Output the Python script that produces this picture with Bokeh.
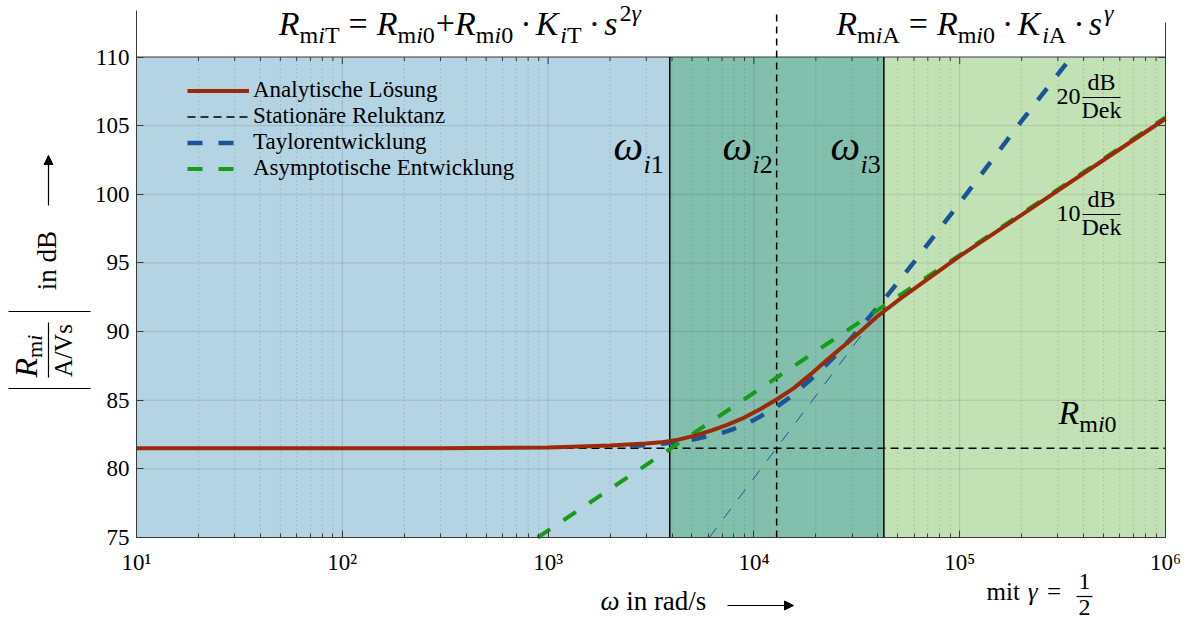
import math
from bokeh.plotting import figure
from bokeh.models import (FixedTicker, LinearAxis, Label, Arrow, NormalHead,
                          Legend, LegendItem)
from bokeh.embed import file_html
from bokeh.resources import INLINE

# ---------------- data ----------------
x_ticks = [10, 100, 1000, 10000, 100000, 1000000]
x_tick_labels = ["10¹", "10²", "10³", "10⁴", "10⁵", "10⁶"]
y_ticks = [75, 80, 85, 90, 95, 100, 105, 110]
minor_mantissas = [2, 3, 4, 5, 6, 7, 8, 9]

omega_i = [3.9e3, 1.29e4, 4.28e4]        # omega_i1, omega_i2, omega_i3
omega_i_names = ["1", "2", "3"]
R_mi0_dB = 81.5

region_colors = ["#b4d3e3", "#82bfad", "#c2e2b6"]

w_analytic = [10, 100, 300, 1000, 2000, 3000, 3516, 4300, 5105, 6200, 7413, 8933, 10770, 12880,
              15640, 18840, 22700, 27350, 32960, 39720, 51520, 1e5, 2e5, 5e5, 1e6]
dB_analytic = [81.5, 81.5, 81.5, 81.55, 81.7, 81.85, 81.93, 82.13, 82.4, 82.78, 83.21, 83.72,
               84.36, 85.05, 85.88, 86.88, 87.94, 88.97, 90.0, 91.1, 92.4, 95.5, 98.5, 102.5,
               105.5]

w_taylor = [2500, 3000, 4000, 5000, 7000, 8000, 10000, 12880, 15000, 20000, 25000,
            30000, 42760, 60000, 1e5, 2e5, 3.49e5]
dB_taylor = [81.66, 81.73, 81.9, 82.11, 82.62, 82.92, 83.55, 84.51, 85.22, 86.83, 88.28,
             89.58, 92.3, 95.06, 99.37, 105.34, 110.0]

w_taylor_slope = [6070, 42760]       # 20 dB/Dek guide
dB_taylor_slope = [75.0, 91.9]

w_asym = [890, 1e6]                  # 10 dB/Dek asymptote
dB_asym = [75.0, 105.6]

# ---------------- layout ----------------
FIG_W, FIG_H = 1192, 619
BOX_L, BOX_R, BOX_B = 136, 1165, 537        # pixel edges of the plot box
PX_DEC = (BOX_R - BOX_L) / 5.0
PX_DB = 480.5 / 35.0
FONT = "Liberation Serif"


def dx(ix):
    return 10 ** (1 + (ix - BOX_L) / PX_DEC)


def dy(iy):
    return 75 + (BOX_B - iy) / PX_DB


HEAD_TOP = dy(10)

p = figure(width=FIG_W, height=FIG_H, x_axis_type="log", x_range=(dx(0), dx(FIG_W)),
           y_range=(dy(FIG_H), dy(0)), output_backend="svg", toolbar_location=None,
           min_border=0, min_border_left=0, min_border_right=0, min_border_top=0,
           min_border_bottom=0, outline_line_color=None, background_fill_color="white",
           border_fill_color="white")
p.xgrid.visible = False
p.ygrid.visible = False

AX_COL = "#3a3a3a"
minor_x = [m * 10 ** k for k in range(1, 6) for m in minor_mantissas]

xa = p.xaxis[0]
xa.ticker = FixedTicker(ticks=x_ticks, minor_ticks=minor_x)
xa.major_label_overrides = {int(t): l for t, l in zip(x_ticks, x_tick_labels)}
xa.fixed_location = 75
xa.bounds = (10, 1e6)
ya = p.yaxis[0]
ya.ticker = FixedTicker(ticks=y_ticks)
ya.fixed_location = 10
ya.bounds = (75, HEAD_TOP)
for ax in (xa, ya):
    ax.axis_line_color = AX_COL
    ax.major_tick_line_color = AX_COL
    ax.minor_tick_line_color = AX_COL
    ax.major_tick_in = 7
    ax.major_tick_out = 0
    ax.minor_tick_in = 4
    ax.minor_tick_out = 0
    ax.major_label_text_font = FONT
    ax.major_label_text_font_size = "23px"
    ax.major_label_text_color = "black"
ya.minor_tick_line_color = None
ya.major_label_standoff = 7
xa.major_label_standoff = 12

ra = LinearAxis(ticker=FixedTicker(ticks=y_ticks), major_label_text_font_size="2px",
                major_label_text_color=None, major_label_standoff=0, fixed_location=1e6,
                major_tick_in=7, major_tick_out=0, minor_tick_line_color=None,
                axis_line_color=AX_COL, major_tick_line_color=AX_COL, bounds=(75, dy(22)))
p.add_layout(ra, "right")

# background regions
edges = [x_ticks[0], omega_i[0], omega_i[2], x_ticks[-1]]
p.quad(left=edges[:-1], right=edges[1:], bottom=y_ticks[0], top=y_ticks[-1],
       fill_color=region_colors, line_color=None)

# grid (drawn from the tick lists, only inside the plot box)
maj_x = x_ticks[1:-1]
p.segment(x0=maj_x, y0=[75] * len(maj_x), x1=maj_x, y1=[110] * len(maj_x),
          line_color="black", line_alpha=0.12, line_width=1)
p.segment(x0=minor_x, y0=[75] * len(minor_x), x1=minor_x, y1=[110] * len(minor_x),
          line_color="black", line_alpha=0.22, line_width=1, line_dash="1 3")
maj_y = y_ticks[1:-1]
p.segment(x0=[10] * len(maj_y), y0=maj_y, x1=[1e6] * len(maj_y), y1=maj_y,
          line_color="black", line_alpha=0.12, line_width=1)

# top border of the plot box with inward ticks
p.line([10, 1e6], [110, 110], line_color=AX_COL, line_width=1)
p.segment(x0=x_ticks, y0=[110] * len(x_ticks), x1=x_ticks,
          y1=[110 - 7 / PX_DB] * len(x_ticks), line_color=AX_COL, line_width=1)
p.segment(x0=minor_x, y0=[110] * len(minor_x), x1=minor_x,
          y1=[110 - 4 / PX_DB] * len(minor_x), line_color=AX_COL, line_width=1)

# region borders
p.segment(x0=[omega_i[0], omega_i[2]], y0=[75, 75], x1=[omega_i[0], omega_i[2]], y1=[110, 110],
          line_color="black", line_width=1.5)
p.segment(x0=[omega_i[1]], y0=[75], x1=[omega_i[1]], y1=[HEAD_TOP],
          line_color="black", line_width=1.5, line_dash="7 5")

# curves
r_stat = p.line([10, 1e6], [R_mi0_dB, R_mi0_dB], line_color="black", line_width=1.5,
                line_dash="8 5")
p.line(w_taylor_slope, dB_taylor_slope, line_color="#1b5597", line_width=1, line_dash="12 12")
r_tay = p.line(w_taylor, dB_taylor, line_color="#1b5597", line_width=4.5, line_dash="15 16")
r_asy = p.line(w_asym, dB_asym, line_color="#169c17", line_width=4, line_dash="15 16")
r_ana = p.line(w_analytic, dB_analytic, line_color="#9a2a08", line_width=4)

legend = Legend(items=[LegendItem(label="Analytische Lösung", renderers=[r_ana]),
                       LegendItem(label="Stationäre Reluktanz", renderers=[r_stat]),
                       LegendItem(label="Taylorentwicklung", renderers=[r_tay]),
                       LegendItem(label="Asymptotische Entwicklung", renderers=[r_asy])],
                location=(187, 438), background_fill_alpha=0, border_line_color=None,
                label_text_font=FONT, label_text_font_size="23px", label_text_color="black",
                glyph_width=62, glyph_height=25, label_height=25, label_standoff=4,
                spacing=0, padding=0, margin=0)
p.add_layout(legend)

# ---------------- text helpers ----------------
WID = {' ': .25, 'A': .722, 'B': .667, 'D': .722, 'E': .611, 'K': .722, 'L': .611, 'R': .667,
       'T': .611, 'V': .722, 'a': .444, 'b': .5, 'c': .444, 'd': .5, 'e': .444, 'g': .5,
       'h': .5, 'i': .278, 'k': .5, 'l': .278, 'm': .778, 'n': .5, 'o': .5, 'p': .5,
       'r': .333, 's': .389, 't': .278, 'u': .5, 'w': .722, 'y': .5, 'z': .444, '=': .564,
       '+': .564, '·': .25, '/': .278, 'ω': .69, 'γ': .45}
WID_IT = {'R': .611, 'K': .667, 'A': .611}
BASE_FIX = 0.39      # renderer places the alphabetic baseline ~0.39 em low


def tw(t, size, it=False):
    return sum((WID_IT.get(c) if it and c in WID_IT else WID.get(c, .5)) for c in t) * size


def rich(pieces, ix, iy, align="left", vertical=False):
    total = sum(tw(t, s, it) + g for t, s, off, it, g in pieces)
    if align == "center":
        ix = ix - total / 2 if not vertical else ix
        iy = iy + total / 2 if vertical else iy
    pos = 0.0
    for t, s, off, it, g in pieces:
        pos += g
        fix = BASE_FIX * s
        if vertical:
            x, y = dx(ix + off - fix), dy(iy - pos)
            ang = math.pi / 2
        else:
            x, y = dx(ix + pos), dy(iy + off - fix)
            ang = 0
        p.add_layout(Label(x=x, y=y, text=t, text_font=FONT, text_font_size=f"{s}px",
                           text_font_style="italic" if it else "normal",
                           text_baseline="alphabetic", text_align="left",
                           text_color="black", angle=ang))
        pos += tw(t, s, it)


def hline(ix0, ix1, iy, w=1.2):
    p.add_layout(Arrow(x_start=dx(ix0), y_start=dy(iy), x_end=dx(ix1), y_end=dy(iy),
                       end=None, line_color="black", line_width=w))


def vline(ix, iy0, iy1, w=1.2):
    p.add_layout(Arrow(x_start=dx(ix), y_start=dy(iy0), x_end=dx(ix), y_end=dy(iy1),
                       end=None, line_color="black", line_width=w))


def arrow(ix0, iy0, ix1, iy1):
    p.add_layout(Arrow(x_start=dx(ix0), y_start=dy(iy0), x_end=dx(ix1), y_end=dy(iy1),
                       end=NormalHead(size=9, fill_color="black", line_color="black"),
                       line_color="black", line_width=1.2))


S, s, d, up = 34, 24, 8, -14


def R_sub(last, g=0):
    return [("R", S, 0, True, g), ("m", s, d, False, 0), ("i", s, d, True, 0),
            (last, s, d, False, 0)]


head_left = (R_sub("T") + [("=", S, 0, False, 9)] + R_sub("0", 9) + [("+", S, 0, False, 1)]
             + R_sub("0") + [("·", S, 0, False, 7), ("K", S, 0, True, 7),
                             ("i", s, d, True, 2), ("T", s, d, False, 0),
                             ("·", S, 0, False, 7), ("s", S, 0, True, 7),
                             ("2", s, up, False, 2), ("γ", s, up, True, 0)])
rich(head_left, 460, 36, "center")
head_right = (R_sub("A") + [("=", S, 0, False, 9)] + R_sub("0", 9)
              + [("·", S, 0, False, 7), ("K", S, 0, True, 7), ("i", s, d, True, 2),
                 ("A", s, d, False, 0), ("·", S, 0, False, 7), ("s", S, 0, True, 7),
                 ("γ", s, up, True, 2)])
rich(head_right, 975, 36, "center")

# omega labels
for ix, name in zip([613, 722, 830], omega_i_names):
    rich([("ω", 42, 0, True, 0), ("i", 26, 12, True, 1), (name, 26, 12, False, 0)], ix, 162)

# R_mi0 label
rich(R_sub("0"), 1058, 425)

# slope labels
for num, iy in (("20", 97), ("10", 214)):
    rich([(num, 24, 0, False, 0)], 1056, iy + 8)
    rich([("dB", 24, 0, False, 0)], 1101, iy - 6, "center")
    rich([("Dek", 24, 0, False, 0)], 1101, iy + 22, "center")
    hline(1082, 1120, iy)

# y axis label (rotated)
hline(8, 90, 311)
hline(8, 90, 388)
rich([("R", 32, 0, True, 0), ("m", 22, 5, False, 0), ("i", 22, 5, True, 0)], 38, 377,
     vertical=True)
vline(48, 322, 377)
rich([("A/Vs", 25, 0, False, 0)], 73, 350, "center", vertical=True)
rich([("in dB", 27, 0, False, 0)], 57, 260, "center", vertical=True)
arrow(48, 205, 48, 155)

# x axis label
rich([("ω", 27, 0, True, 0), ("in rad/s", 27, 0, False, 7)], 600, 611)
arrow(727, 605, 793, 605)

# gamma note
rich([("mit", 25, 0, False, 0), ("γ", 25, 0, True, 8), ("=", 25, 0, False, 8)], 986, 601)
rich([("1", 24, 0, False, 0)], 1084, 590, "center")
hline(1076, 1092, 596)
rich([("2", 24, 0, False, 0)], 1084, 616, "center")

open("out.html", "w").write(file_html(p, INLINE))
